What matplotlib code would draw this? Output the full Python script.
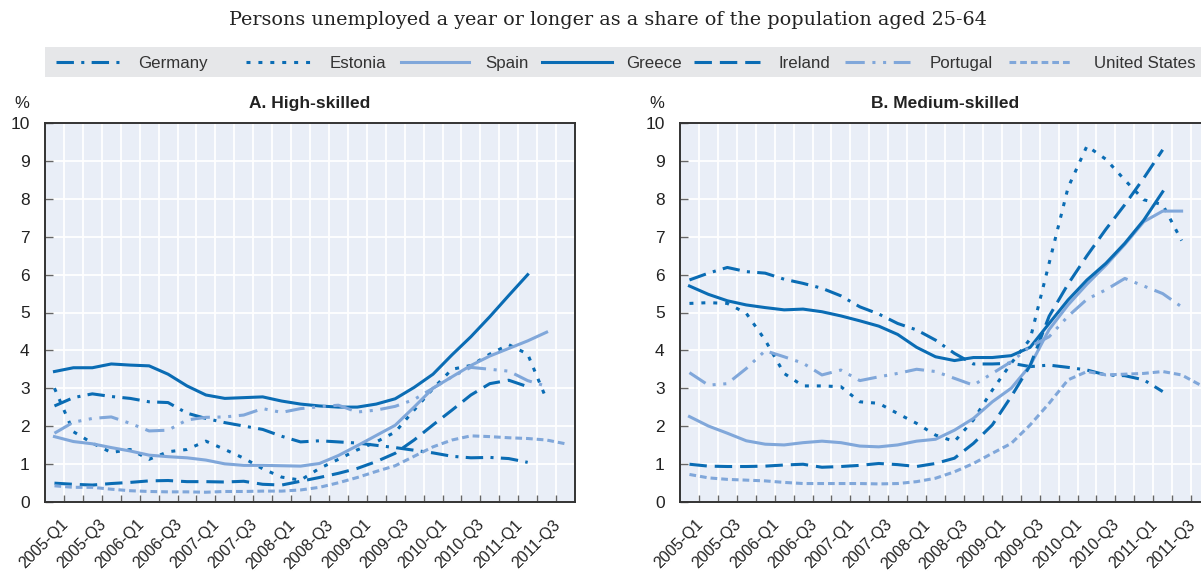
import numpy as np
import matplotlib
matplotlib.use('Agg')
import matplotlib.pyplot as plt
from matplotlib.transforms import ScaledTranslation

plt.rcParams['font.family'] = ['Liberation Sans', 'DejaVu Sans']

quarters = ['%d-Q%d' % (y, q) for y in range(2005, 2012) for q in range(1, 5)]
countries = ['Germany', 'Estonia', 'Spain', 'Greece', 'Ireland', 'Portugal', 'United States']

# A. High-skilled (%)
germany_hi = [2.53, 2.75, 2.85, 2.78, 2.73, 2.64, 2.62, 2.34, 2.2, 2.09, 2.0, 1.91, 1.73, 1.58,
              1.61, 1.58, 1.55, 1.49, 1.43, 1.36, 1.29, 1.2, 1.16, 1.17, 1.14, 1.04]
estonia_hi = [3.0, 1.85, 1.55, 1.3, 1.38, 1.12, 1.32, 1.38, 1.6, 1.38, 1.15, 0.87, 0.65, 0.57,
              0.88, 1.12, 1.37, 1.58, 1.84, 2.42, 2.99, 3.5, 3.6, 3.9, 4.15, 3.9, 2.7]
spain_hi = [1.72, 1.59, 1.53, 1.43, 1.34, 1.23, 1.19, 1.16, 1.1, 1.0, 0.96, 0.96, 0.95, 0.94,
            1.01, 1.22, 1.48, 1.75, 2.02, 2.5, 3.0, 3.3, 3.6, 3.85, 4.05, 4.25, 4.48]
greece_hi = [3.44, 3.54, 3.54, 3.64, 3.61, 3.59, 3.37, 3.06, 2.82, 2.73, 2.75, 2.77, 2.66, 2.58,
             2.53, 2.5, 2.5, 2.58, 2.72, 3.02, 3.37, 3.88, 4.36, 4.89, 5.45, 6.0]
ireland_hi = [0.49, 0.46, 0.44, 0.48, 0.51, 0.55, 0.56, 0.53, 0.53, 0.52, 0.54, 0.46, 0.44, 0.54,
              0.64, 0.75, 0.88, 1.06, 1.28, 1.63, 2.03, 2.42, 2.82, 3.12, 3.21, 3.04]
portugal_hi = [1.81, 2.1, 2.2, 2.24, 2.07, 1.87, 1.89, 2.16, 2.23, 2.24, 2.29, 2.46, 2.36, 2.46,
               2.51, 2.55, 2.37, 2.42, 2.52, 2.7, 3.0, 3.3, 3.55, 3.5, 3.45, 3.2, 3.05]
us_hi = [0.42, 0.38, 0.38, 0.33, 0.29, 0.27, 0.26, 0.26, 0.25, 0.27, 0.27, 0.28, 0.28, 0.31,
         0.38, 0.5, 0.64, 0.8, 0.95, 1.2, 1.45, 1.63, 1.74, 1.72, 1.69, 1.67, 1.63, 1.53]

# B. Medium-skilled (%)
germany_med = [5.86, 6.04, 6.19, 6.08, 6.04, 5.88, 5.77, 5.64, 5.44, 5.15, 4.96, 4.71, 4.54, 4.27,
               3.92, 3.64, 3.64, 3.66, 3.57, 3.61, 3.55, 3.48, 3.35, 3.33, 3.22, 2.91]
estonia_med = [5.24, 5.26, 5.24, 4.98, 4.27, 3.39, 3.06, 3.06, 3.04, 2.64, 2.6, 2.33, 2.07, 1.76,
               1.59, 2.16, 2.95, 3.66, 4.3, 6.3, 8.3, 9.4, 9.05, 8.5, 7.98, 7.85, 6.9]
spain_med = [2.25, 2.0, 1.81, 1.61, 1.52, 1.5, 1.56, 1.6, 1.56, 1.47, 1.45, 1.5, 1.6, 1.65,
             1.89, 2.2, 2.64, 3.0, 3.6, 4.55, 5.2, 5.75, 6.25, 6.8, 7.4, 7.68, 7.68]
greece_med = [5.7, 5.48, 5.31, 5.2, 5.13, 5.07, 5.09, 5.02, 4.91, 4.78, 4.64, 4.42, 4.08, 3.83,
              3.73, 3.81, 3.81, 3.86, 4.08, 4.71, 5.33, 5.86, 6.3, 6.83, 7.44, 8.19]
ireland_med = [0.99, 0.94, 0.93, 0.93, 0.94, 0.97, 0.99, 0.91, 0.93, 0.96, 1.01, 0.98, 0.93, 1.01,
               1.15, 1.54, 2.03, 2.78, 3.6, 4.9, 5.75, 6.5, 7.2, 7.85, 8.55, 9.3]
portugal_med = [3.41, 3.08, 3.12, 3.52, 3.99, 3.83, 3.66, 3.35, 3.48, 3.2, 3.3, 3.39, 3.5, 3.44,
                3.26, 3.08, 3.39, 3.7, 4.1, 4.36, 4.9, 5.35, 5.6, 5.9, 5.7, 5.5, 5.15]
us_med = [0.72, 0.63, 0.59, 0.57, 0.55, 0.51, 0.48, 0.48, 0.48, 0.48, 0.47, 0.48, 0.53, 0.62,
          0.79, 1.01, 1.28, 1.54, 2.03, 2.6, 3.22, 3.44, 3.35, 3.37, 3.39, 3.44, 3.35, 3.08]

high = [germany_hi, estonia_hi, spain_hi, greece_hi, ireland_hi, portugal_hi, us_hi]
medium = [germany_med, estonia_med, spain_med, greece_med, ireland_med, portugal_med, us_med]

DARK = '#0A6CB4'
LIGHT = '#80A7DA'
LW = 2.2
styles = {
    'Germany': (DARK, (0, (5.7, 2.4, 1.0, 2.4))),
    'Estonia': (DARK, (0, (1.3, 2.6))),
    'Spain': (LIGHT, '-'),
    'Greece': (DARK, '-'),
    'Ireland': (DARK, (0, (5.7, 2.6))),
    'Portugal': (LIGHT, (0, (6.3, 2.5, 1.0, 2.5, 1.0, 2.5))),
    'United States': (LIGHT, (0, (2.2, 1.3))),
}

W, H = 1201, 572
fig = plt.figure(figsize=(W / 100, H / 100), dpi=100)


def px_axes(x0, y0, x1, y1):
    return fig.add_axes([x0 / W, 1 - y1 / H, (x1 - x0) / W, (y1 - y0) / H])


def draw_panel(ax, series, title):
    ax.set_facecolor('#E9EEF7')
    x = np.arange(len(quarters))
    for name, vals in zip(countries, series):
        y = np.full(len(quarters), np.nan)
        y[:len(vals)] = vals
        color, ls = styles[name]
        ax.plot(x, y, color=color, ls=ls, lw=LW, solid_joinstyle='round')
    ax.set_xlim(-0.5, len(quarters) - 0.5)
    ax.set_ylim(0, 10)
    ax.set_xticks(x[::2])
    ax.set_xticklabels(quarters[::2], fontsize=11.5, color='#222222')
    ax.set_xticks(np.arange(0.5, len(quarters) - 1, 1), minor=True)
    ax.set_yticks(range(0, 11))
    ax.tick_params(axis='y', direction='in', length=6, width=1, color='#666666',
                   labelsize=12.5, labelcolor='#222222', pad=11)
    ax.tick_params(axis='x', which='major', length=0, pad=11)
    ax.tick_params(axis='x', which='minor', direction='in', length=5, width=1, color='#666666')
    ax.grid(axis='x', which='minor', color='white', lw=1.3)
    ax.grid(axis='y', which='major', color='white', lw=1.3)
    ax.set_axisbelow(True)
    for sp in ax.spines.values():
        sp.set_color('#333333')
        sp.set_linewidth(1.4)
    shift = ScaledTranslation(6 / 100, 0, fig.dpi_scale_trans)
    for lab in ax.get_xticklabels():
        lab.set_rotation(45)
        lab.set_ha('right')
        lab.set_rotation_mode('anchor')
        lab.set_transform(lab.get_transform() + shift)
    ax.set_title(title, fontsize=12.5, fontweight='bold', color='#222222', pad=11)
    ax.annotate('%', xy=(0, 1), xycoords='axes fraction', xytext=(-23, 20),
                textcoords='offset pixels', ha='center', va='center', fontsize=12,
                color='#222222')


ax_a = px_axes(45, 123.3, 575, 501.7)
ax_b = px_axes(680, 123.3, 1210, 501.7)
draw_panel(ax_a, high, 'A. High-skilled')
draw_panel(ax_b, medium, 'B. Medium-skilled')

# legend strip
lax = px_axes(45, 46.7, 1210, 77.3)
lax.set_facecolor('#E6E7E9')
lax.set_xlim(45, 1210)
lax.set_ylim(0, 1)
lax.set_xticks([])
lax.set_yticks([])
for sp in lax.spines.values():
    sp.set_visible(False)
legend_pos = [(55.5, 120.5, 138.5), (245.7, 315.7, 330), (401, 469, 485), (541.5, 611.5, 626),
              (693.8, 760, 778), (845, 910, 930), (1008.7, 1071.5, 1093.7)]
for name, (h0, h1, tx) in zip(countries, legend_pos):
    color, ls = styles[name]
    lax.plot([h0, h1], [0.5, 0.5], color=color, ls=ls, lw=LW)
    lax.text(tx, 0.45, name, ha='left', va='center', fontsize=12.2, color='#333333')

fig.text(607.7 / W, 1 - 25 / H,
         'Persons unemployed a year or longer as a share of the population aged 25-64',
         ha='center', va='baseline', family='DejaVu Serif', fontsize=13.8, color='#222222')

fig.savefig('out.png', dpi=100)
